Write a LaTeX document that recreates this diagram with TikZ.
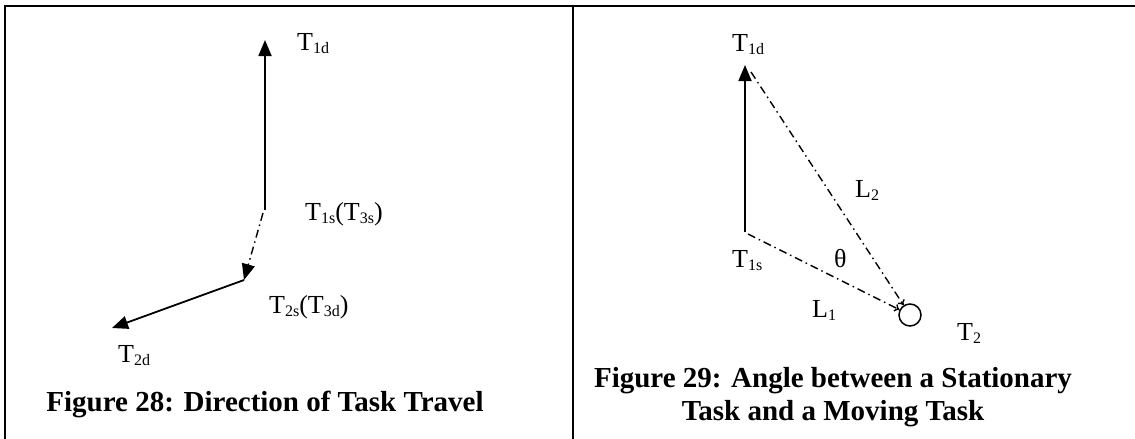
\documentclass[tikz,border=0pt]{standalone}
\usepackage{fontspec}
\setmainfont{Liberation Serif}
\usetikzlibrary{arrows.meta}
\newcommand{\lbl}[2]{#1\raisebox{-3.5pt}{\fontsize{16}{16}\selectfont #2}}
\begin{document}
\begin{tikzpicture}[x=1pt,y=-1pt,
  frame/.style={line width=2pt},
  solidarrow/.style={line width=1.8pt,-{Triangle[length=16pt,width=13pt]}},
  dashdot/.style={line width=1.4pt,dash pattern=on 8pt off 4pt on 1.5pt off 4pt},
  smalltip/.style={-{To[length=5pt,width=8pt]}},
  lab/.style={anchor=base west,inner sep=0pt,font=\fontsize{26}{26}\selectfont},
  figcaption/.style={anchor=base,inner sep=0pt,font=\fontsize{29}{33}\selectfont\bfseries,align=center},
]
\useasboundingbox (0,0) rectangle (1135,439);
% frame
\coordinate (tl) at (5,6);
\coordinate (tr) at (1135,6);
\coordinate (bl) at (5,439);
\coordinate (mt) at (573,6);
\coordinate (mb) at (573,439);
\draw[frame] (tr) -- (tl) -- (bl);
\draw[frame] (mt) -- (mb);

% left panel
\coordinate (L1d) at (265,40);
\coordinate (L1s) at (265,210);
\coordinate (L1sb) at (263,213);
\coordinate (L2s) at (244,280);
\coordinate (L2d) at (112,328);
\draw[solidarrow] (L1s) -- (L1d);
\draw[dashdot,-{Triangle[length=16pt,width=13pt]}] (L1sb) -- (L2s);
\draw[solidarrow] (L2s) -- (L2d);
\node[lab] (tl1d) at (297,50) {\lbl{T}{1d}};
\node[lab] (tl1s) at (305,220) {\lbl{T}{1s}(\lbl{T}{3s})};
\node[lab] (tl2s) at (269,313) {\lbl{T}{2s}(\lbl{T}{3d})};
\node[lab] (tl2d) at (118,362) {\lbl{T}{2d}};
\node[figcaption] (cap28) at (265,411) {Figure 28: Direction of Task Travel};

% right panel
\coordinate (R1s) at (745,232);
\coordinate (R1d) at (745,65);
\coordinate (R1sb) at (748,234);
\coordinate (R1db) at (751,72);
\node[circle,draw,line width=1.5pt,minimum size=22pt,inner sep=0pt] (R2) at (910,315) {};
\draw[solidarrow] (R1s) -- (R1d);
\draw[dashdot,smalltip] (R1sb) -- (R2);
\draw[dashdot,smalltip] (R1db) -- (R2);
\node[lab] (tr1d) at (732,51) {\lbl{T}{1d}};
\node[lab] (tr1s) at (732,267) {\lbl{T}{1s}};
\node[lab] (theta) at (834,267) {θ};
\node[lab] (l2) at (855,197) {\lbl{L}{2}};
\node[lab] (l1) at (812,317) {\lbl{L}{1}};
\node[lab] (t2) at (957,340) {\lbl{T}{2}};
\node[figcaption] (cap29) at (833,420) {Figure 29: Angle between a Stationary\\Task and a Moving Task};
\end{tikzpicture}
\end{document}
